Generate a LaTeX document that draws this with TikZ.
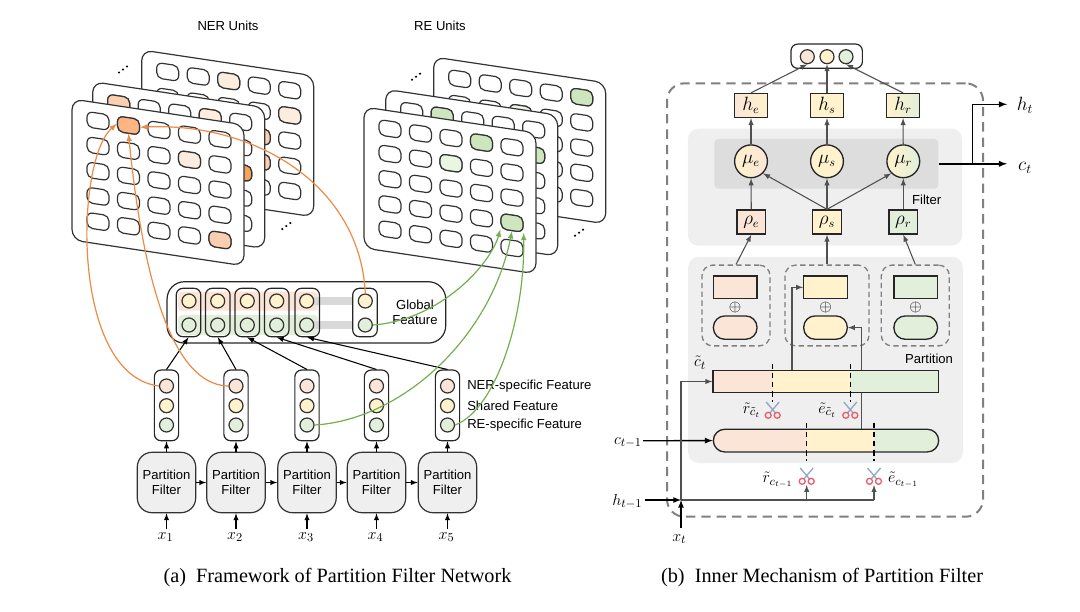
\documentclass[tikz,border=0pt]{standalone}
\usepackage{fontspec}
\setmainfont{Liberation Sans}
\newfontfamily\capfont{Liberation Serif}
\usetikzlibrary{backgrounds}

\definecolor{pinkfill}{HTML}{FBE5D6}
\definecolor{yellowfill}{HTML}{FFF2CC}
\definecolor{greenfill}{HTML}{E2EFDA}
\definecolor{panelgray}{HTML}{EFEFEF}
\definecolor{innergray}{HTML}{DDDDDD}
\definecolor{dashgray}{HTML}{808080}
\definecolor{linkgray}{HTML}{505050}
\definecolor{linkorange}{HTML}{ED8A45}
\definecolor{linkgreen}{HTML}{74AF4E}
\definecolor{hotA}{HTML}{FDB683}
\definecolor{hotB}{HTML}{FCCFB0}
\definecolor{hotC}{HTML}{FDEDDE}
\definecolor{hotD}{HTML}{F8A35C}
\definecolor{reA}{HTML}{CDE6BE}
\definecolor{reB}{HTML}{EAF5E2}
\definecolor{bladeblue}{HTML}{8FA8C8}
\definecolor{handlered}{HTML}{E8606A}

\tikzset{
  unitcard/.style={draw=black!80,fill=white,line width=0.9pt,rounded corners=8pt},
  unitcell/.style={draw=black!80,fill=white,line width=0.9pt,rounded corners=4.2pt,
    minimum width=16.5pt,minimum height=11.6pt,inner sep=0pt,transform shape},
  dotnode/.style={circle,draw=black!80,line width=0.9pt,minimum size=10.5pt,inner sep=0pt},
  colbox/.style={draw=black!85,line width=0.9pt,rounded corners=5pt,inner sep=0pt},
  filterbox/.style={draw=black!80,fill=panelgray,line width=0.9pt,rounded corners=11pt,
    minimum width=43.8pt,minimum height=45.3pt,inner sep=0pt,align=center,
    font=\fontsize{9.8}{11.5}\selectfont},
  sanslabel/.style={font=\fontsize{9.8}{11.5}\selectfont,inner sep=0pt},
  mathlabel/.style={font=\fontsize{12.5}{14}\selectfont,inner sep=0pt},
  squarenode/.style={draw=black!85,line width=1pt,inner sep=0pt,
    font=\fontsize{13.5}{15}\selectfont},
  munode/.style={circle,draw=black!85,line width=1pt,minimum size=24.6pt,inner sep=0pt,
    font=\fontsize{13.5}{15}\selectfont},
  colorbar/.style={draw=black!85,line width=1pt,inner sep=0pt},
  groupbox/.style={draw=dashgray,line width=1pt,dash pattern=on 4pt off 2.6pt,rounded corners=8pt,inner sep=0pt},
  arrowlink/.style={line width=0.8pt,-latex},
  graylink/.style={line width=0.8pt,draw=linkgray,-latex},
  orangelink/.style={line width=0.9pt,draw=linkorange,-latex},
  greenlink/.style={line width=0.9pt,draw=linkgreen,-latex},
  featbar/.style={line width=6.6pt,draw=black!15},
  cutline/.style={line width=0.9pt,dash pattern=on 4.2pt off 2.6pt},
  pics/scissorcut/.style={code={
    \draw[line width=1pt,draw=bladeblue] (-6.5,-8) -- (3,3.2);
    \draw[line width=1pt,draw=bladeblue] (6.5,-8) -- (-3,3.2);
    \draw[line width=1pt,draw=handlered] (-4.5,5.3) circle (3);
    \draw[line width=1pt,draw=handlered] (4.5,5.3) circle (3);
  }},
  pics/moredots/.style={code={
    \fill (-4,3) circle (1.2);
    \fill (0,0) circle (1.2);
    \fill (4,-3) circle (1.2);
  }},
}

% name, left, top, filled cells
\newcommand{\cardgrid}[4]{
  \begin{scope}[shift={(#2,#3)},yslant=-0.15]
    \draw[unitcard] (0,0) rectangle (172,141);
    \foreach \r in {1,...,5} \foreach \c in {1,...,5}
      \node[unitcell] (#1-\r-\c) at ({26+30.5*(\c-1)},{18+25.2*(\r-1)}) {};
    \foreach \r/\c/\col in {#4}
      \node[unitcell,fill=\col] (#1-\r-\c) at ({26+30.5*(\c-1)},{18+25.2*(\r-1)}) {};
  \end{scope}
}

\begin{document}
\begin{tikzpicture}[x=0.75pt,y=-0.75pt]
    \useasboundingbox (0,0) rectangle (1080,611);

    % NER and RE units
    \node[sanslabel] (nertitle) at (228,26) {NER Units};
    \node[sanslabel] (retitle) at (440,26) {RE Units};
    \pic at (123,69.5) {moredots};
    \pic at (286.3,226) {moredots};
    \pic at (416,76.7) {moredots};
    \pic at (579,232.7) {moredots};
    \cardgrid{nerback}{141.7}{50}{1/3/hotC,2/5/hotC,3/4/hotB,4/4/hotB}
    \cardgrid{nermid}{92.7}{81.7}{1/1/hotB,1/4/hotC,3/5/hotD}
    \cardgrid{nerfront}{72}{99}{1/2/hotA,2/4/hotC,5/5/hotB}
    \cardgrid{reback}{433.7}{57}{1/5/reA,2/3/reB}
    \cardgrid{remid}{385.7}{89.3}{1/2/reA,2/5/reA}
    \cardgrid{refront}{364}{107}{1/4/reA,2/3/reB,4/5/reA}

    % Global feature
    \foreach \n/\x in {1/189,2/217.7,3/247.3,4/276.7,5/306.7,6/365.3} {
        \node[dotnode,fill=yellowfill] (gtop\n) at (\x,301) {};
        \node[dotnode,fill=greenfill] (gbot\n) at (\x,325) {};
    }
    \foreach \n/\x in {1/188.5,2/217.8,3/247.2,4/276.7,5/307.2,6/365} {
        \node[colbox,minimum width=18.4pt,minimum height=36.3pt] (gcol\n) at (\x,312.5) {};
    }
    \node[draw=black!85,line width=0.9pt,rounded corners=13pt,minimum width=209pt,
        minimum height=46pt,inner sep=0pt] (gbox) at (306.4,312.4) {};
    \node[sanslabel,align=center] (gtext) at (415,312) {Global\\Feature};
    \begin{scope}[on background layer]
        \shade[rounded corners=3pt,top color=pinkfill,middle color=yellowfill,
            bottom color=pinkfill] (178,291.7) rectangle (318,310.7);
        \fill[rounded corners=3pt,greenfill] (178,315) rectangle (318,335);
        \draw[featbar] (gtop5) -- (gcol6.west |- gtop6);
        \draw[featbar] (gbot5) -- (gcol6.west |- gbot6);
    \end{scope}

    % Partition filters and their features
    \foreach \n/\x in {1/166.5,2/236,3/307,4/376.5,5/447.5} {
        \node[filterbox] (pf\n) at (\x,482.5) {Partition\\Filter};
        \node[colbox,minimum width=18.2pt,minimum height=53pt] (col\n) at (\x,405.4) {};
        \node[dotnode,fill=pinkfill] (ner\n) at (\x,386) {};
        \node[dotnode,fill=yellowfill] (sha\n) at (\x,405.7) {};
        \node[dotnode,fill=greenfill] (rel\n) at (\x,425) {};
        \node[mathlabel] (x\n) at ({\x-1},537) {$x_\n$};
        \draw[arrowlink] (x\n.north) ++(1,-3) -- (pf\n.south);
        \draw[arrowlink] (pf\n.north) -- (col\n.south);
    }
    \foreach \a/\b in {1/2,2/3,3/4,4/5} {
        \draw[arrowlink] (pf\a) -- (pf\b);
    }
    \foreach \a in {1,...,5} {
        \draw[arrowlink] (col\a.north) -- (gcol\a.south);
    }
    \node[sanslabel,anchor=west] (nerlab) at (467,386) {NER-specific Feature};
    \node[sanslabel,anchor=west] (shalab) at (467,405.7) {Shared Feature};
    \node[sanslabel,anchor=west] (rellab) at (467,425) {RE-specific Feature};

    % Orange and green links
    \draw[orangelink] (ner1.west) .. controls (70,375) and (75,160) .. (nerfront-1-2.west);
    \draw[orangelink] (ner2.west) .. controls (165,385) and (140,250) .. (nerfront-1-2.south);
    \draw[orangelink] (gtop6.north) .. controls (360,185) and (255,122) .. (nerfront-1-2.east);
    \draw[greenlink] (gbot6.east) .. controls (440,320) and (490,265) .. (refront-4-5.south west);
    \draw[greenlink] (rel3.east) .. controls (400,420) and (490,340) .. (refront-4-5.south);
    \draw[greenlink] (rel5.east) .. controls (495,410) and (525,320) .. (refront-4-5.south east);

    % Panels of the filter
    \node[draw=dashgray,line width=1.5pt,dash pattern=on 7pt off 4.5pt,rounded corners=13pt,
        minimum width=237pt,minimum height=325pt,inner sep=0pt] (outerbox) at (825,300) {};
    \node[fill=panelgray,rounded corners=8pt,minimum width=205.7pt,minimum height=87.8pt,inner sep=0pt] (filterpanel) at (825,187.2) {};
    \node[fill=innergray,rounded corners=3pt,minimum width=168pt,minimum height=37.3pt,inner sep=0pt] (innerpanel) at (826.3,163.8) {};
    \node[fill=panelgray,rounded corners=8pt,minimum width=206pt,minimum height=154.7pt,inner sep=0pt] (partpanel) at (825.5,359.9) {};
    \node[sanslabel] (filtertext) at (926.7,200) {Filter};
    \node[sanslabel] (parttext) at (929,359.3) {Partition};

    % Output circles
    \node[draw=black!85,line width=0.9pt,rounded corners=5pt,minimum width=53.5pt,minimum height=18.2pt,inner sep=0pt] (topbox) at (826.7,56.2) {};
    \node[dotnode,fill=pinkfill] (tope) at (807.3,56.7) {};
    \node[dotnode,fill=yellowfill] (tops) at (827,56.7) {};
    \node[dotnode,fill=greenfill] (topr) at (846,56.7) {};

    % Filter units
    \node[squarenode,left color=pinkfill,right color=yellowfill,minimum width=24.75pt,minimum height=18pt] (he) at (751,105.5) {$h_e$};
    \node[squarenode,fill=yellowfill,minimum width=24.75pt,minimum height=18pt] (hs) at (827,105.5) {$h_s$};
    \node[squarenode,left color=yellowfill,right color=greenfill,minimum width=24.75pt,minimum height=18pt] (hr) at (903,105.5) {$h_r$};
    \node[munode,left color=yellowfill,right color=pinkfill] (mue) at (751,161.3) {$\mu_e$};
    \node[munode,fill=yellowfill] (mus) at (827,161.3) {$\mu_s$};
    \node[munode,left color=yellowfill,right color=greenfill] (mur) at (903.3,161.3) {$\mu_r$};
    \node[squarenode,fill=pinkfill,minimum width=21.6pt,minimum height=18pt] (rhoe) at (751.3,222) {$\rho_e$};
    \node[squarenode,fill=yellowfill,minimum width=21.6pt,minimum height=18pt] (rhos) at (827,222) {$\rho_s$};
    \node[squarenode,fill=greenfill,minimum width=21.6pt,minimum height=18pt] (rhor) at (903.3,222) {$\rho_r$};

    \draw[graylink] (he.north) -- (tope.south);
    \draw[graylink] (hs.north) -- (tops.south);
    \draw[graylink] (hr.north) -- (topr.south);
    \draw[graylink] (mue) -- (he);
    \draw[graylink] (mus) -- (hs);
    \draw[graylink] (mur) -- (hr);
    \draw[graylink] (rhoe) -- (mue);
    \draw[graylink] (rhos) -- (mus);
    \draw[graylink] (rhor) -- (mur);
    \draw[graylink] (rhos.north) -- (mue.south east);
    \draw[graylink] (rhos.north) -- (mur.south west);

    % Outputs
    \node[mathlabel,font=\fontsize{14}{16}\selectfont] (ht) at (1025,105) {$h_t$};
    \node[mathlabel,font=\fontsize{14}{16}\selectfont] (ct) at (1025,168) {$c_t$};
    \coordinate (ctend) at (1007,163.8);
    \coordinate (htend) at (1007,104.3);
    \coordinate (branch) at (972.3,163.8);
    \draw[line width=1.1pt,-latex] (innerpanel.east) -- (ctend);
    \draw[line width=1.1pt,-latex] (branch) |- (htend);

    % Partition groups
    \foreach \n/\x/\col in {e/735.2/pinkfill,s/825.5/yellowfill,r/915.7/greenfill} {
        \node[colorbar,fill=\col,minimum width=32.7pt,minimum height=17pt] (rect\n) at (\x,287.3) {};
        \node[colorbar,fill=\col,rounded corners=8.5pt,minimum width=32.7pt,minimum height=17.5pt] (pill\n) at (\x,327.6) {};
        \node[mathlabel] (plus\n) at (\x,307.5) {$\oplus$};
    }
    \node[groupbox,minimum width=51pt,minimum height=60.6pt] (grpe) at (736,305.5) {};
    \node[groupbox,minimum width=63pt,minimum height=60.6pt] (grps) at (827,305.5) {};
    \node[groupbox,minimum width=51pt,minimum height=60.6pt] (grpr) at (915.3,305.5) {};
    \draw[graylink] (grpe.north) -- (rhoe.south);
    \draw[graylink] (grps.north) -- (rhos.south);
    \draw[graylink] (grpr.north) -- (rhor.south);

    % Lower pill and links behind the bars
    \coordinate (rjoin) at (792,370.3);
    \coordinate (ejoin) at (861.5,429.3);
    \draw[graylink] (ejoin) |- (pills.east);
    \draw[graylink] (rjoin) |- (rects.west);

    % Upper bar
    \fill[pinkfill] (713,370.3) rectangle (772.7,392.7);
    \fill[yellowfill] (772.7,370.3) rectangle (850.3,392.7);
    \fill[greenfill] (850.3,370.3) rectangle (938.7,392.7);
    \node[colorbar,minimum width=169.3pt,minimum height=16.8pt] (cbar) at (825.85,381.5) {};
    \coordinate (cuta) at (772.7,363.7);
    \coordinate (cutb) at (772.7,401.7);
    \coordinate (cutc) at (850.3,363.7);
    \coordinate (cutd) at (850.3,401.7);
    \draw[cutline] (cuta) -- (cutb);
    \draw[cutline] (cutc) -- (cutd);

    % Lower pill
    \begin{scope}
        \clip[rounded corners=8.5pt] (713.3,429.3) rectangle (938.7,452);
        \fill[pinkfill] (713.3,429.3) rectangle (806.7,452);
        \fill[yellowfill] (806.7,429.3) rectangle (874,452);
        \fill[greenfill] (874,429.3) rectangle (938.7,452);
    \end{scope}
    \node[colorbar,rounded corners=8.5pt,minimum width=169pt,minimum height=17pt] (cpill) at (826,440.6) {};
    \coordinate (cute) at (806.7,422.7);
    \coordinate (cutf) at (806.7,460.7);
    \coordinate (cutg) at (874,422.7);
    \coordinate (cuth) at (874,460.7);
    \draw[cutline] (cute) -- (cutf);
    \draw[cutline] (cutg) -- (cuth);

    % Scissors
    \pic at (772.7,410) {scissorcut};
    \pic at (850.3,410) {scissorcut};
    \pic at (806.7,476) {scissorcut};
    \pic at (874,476) {scissorcut};
    \node[mathlabel] (ctilde) at (700,362.7) {$\tilde{c}_t$};
    \node[mathlabel] (rtop) at (751.7,410) {$\tilde{r}_{\tilde{c}_t}$};
    \node[mathlabel] (etop) at (827.3,410) {$\tilde{e}_{\tilde{c}_t}$};
    \node[mathlabel] (rlow) at (777.7,480) {$\tilde{r}_{c_{t-1}}$};
    \node[mathlabel] (elow) at (903.3,480) {$\tilde{e}_{c_{t-1}}$};

    % Inputs
    \node[mathlabel] (cprev) at (628,442.7) {$c_{t-1}$};
    \node[mathlabel] (hprev) at (627.3,501.7) {$h_{t-1}$};
    \node[mathlabel] (xt) at (679.3,539.3) {$x_t$};
    \coordinate (hjoin) at (681,500);
    \coordinate (xtail) at (681,528);
    \coordinate (rtip) at (806.7,485);
    \coordinate (etip) at (874,485);
    \coordinate (hend) at (874,500);
    \draw[line width=1pt,-latex] (cprev.east) ++(1,-2) -- (cpill.west);
    \draw[graylink,-] (hjoin) -- (hend);
    \draw[graylink] (hend) -- (etip);
    \draw[graylink] (rtip |- hjoin) -- (rtip);
    \draw[graylink] (hjoin) |- (cbar.west);
    \draw[line width=1pt,-latex] (hprev.east) ++(2,-1.7) -- (hjoin);
    \draw[line width=1pt,-latex] (xtail) -- (hjoin);

    % Captions
    \node[font=\capfont\fontsize{15.2}{18}\selectfont,inner sep=0pt] (capa) at (337.5,578) {(a)\ \ Framework of Partition Filter Network};
    \node[font=\capfont\fontsize{15.2}{18}\selectfont,inner sep=0pt] (capb) at (822,578) {(b)\ \ Inner Mechanism of Partition Filter};

\end{tikzpicture}
\end{document}
